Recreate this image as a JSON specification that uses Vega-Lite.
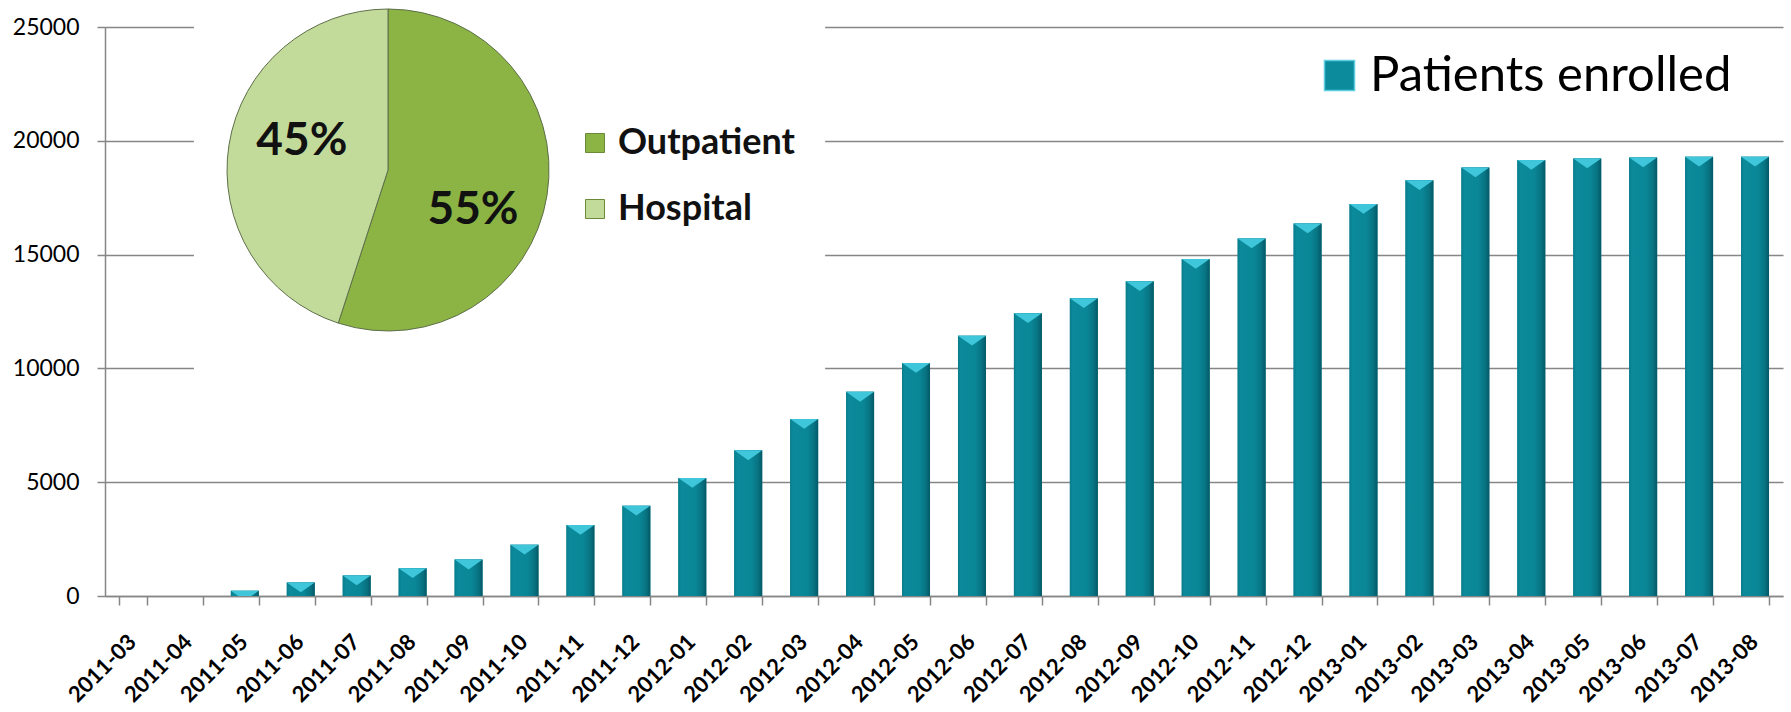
{
  "$schema": "https://vega.github.io/schema/vega-lite/v6.json",
  "width": 1678,
  "height": 569,
  "autosize": {"type": "none"},
  "padding": {"left": 105, "top": 27, "right": 8, "bottom": 116},
  "background": "white",
  "config": {"view": {"stroke": null}, "font": "Lato"},
  "datasets": {
    "enrolled": [
      {"month": "2011-03", "patients": 0},
      {"month": "2011-04", "patients": 0},
      {"month": "2011-05", "patients": 230},
      {"month": "2011-06", "patients": 590},
      {"month": "2011-07", "patients": 900},
      {"month": "2011-08", "patients": 1220},
      {"month": "2011-09", "patients": 1600},
      {"month": "2011-10", "patients": 2250},
      {"month": "2011-11", "patients": 3120},
      {"month": "2011-12", "patients": 3970},
      {"month": "2012-01", "patients": 5190},
      {"month": "2012-02", "patients": 6400},
      {"month": "2012-03", "patients": 7780},
      {"month": "2012-04", "patients": 8970},
      {"month": "2012-05", "patients": 10240},
      {"month": "2012-06", "patients": 11440},
      {"month": "2012-07", "patients": 12420},
      {"month": "2012-08", "patients": 13080},
      {"month": "2012-09", "patients": 13830},
      {"month": "2012-10", "patients": 14810},
      {"month": "2012-11", "patients": 15710},
      {"month": "2012-12", "patients": 16370},
      {"month": "2013-01", "patients": 17220},
      {"month": "2013-02", "patients": 18270},
      {"month": "2013-03", "patients": 18830},
      {"month": "2013-04", "patients": 19160},
      {"month": "2013-05", "patients": 19220},
      {"month": "2013-06", "patients": 19270},
      {"month": "2013-07", "patients": 19300},
      {"month": "2013-08", "patients": 19300}
    ],
    "pie": [
      {"type": "Outpatient", "share": 0.55},
      {"type": "Hospital", "share": 0.45}
    ],
    "inset": [{"name": "pie inset"}]
  },
  "layer": [
    {
      "data": {"name": "enrolled"},
      "mark": {"type": "bar"},
      "encoding": {
        "x": {
          "field": "month", "type": "nominal", "sort": null,
          "scale": {
            "domain": ["2011-03","2011-04","2011-05","2011-06","2011-07","2011-08","2011-09","2011-10","2011-11","2011-12",
                       "2012-01","2012-02","2012-03","2012-04","2012-05","2012-06","2012-07","2012-08","2012-09","2012-10","2012-11","2012-12",
                       "2013-01","2013-02","2013-03","2013-04","2013-05","2013-06","2013-07","2013-08"],
            "paddingInner": 0.5, "paddingOuter": 0.25
          },
          "axis": {
            "title": null, "labelAngle": -45, "labelFontWeight": "bold", "labelFontSize": 22,
            "labelFont": "Lato", "labelColor": "black", "labelPadding": 26, "labelOffset": -8,
            "tickBand": "extent", "tickSize": 9, "tickColor": "#868686", "tickWidth": 1.5,
            "domainColor": "#868686", "domainWidth": 1.5, "grid": false
          }
        },
        "y": {
          "field": "patients", "type": "quantitative",
          "scale": {"domain": [0, 25000], "nice": false},
          "axis": {
            "title": null, "values": [0, 5000, 10000, 15000, 20000, 25000], "format": "d",
            "labelFontSize": 23, "labelFont": "Lato", "labelColor": "black", "labelPadding": 18,
            "tickSize": 8, "tickColor": "#868686", "tickWidth": 1.5,
            "domainColor": "#868686", "domainWidth": 1.5,
            "grid": true, "gridColor": "#868686", "gridWidth": 1.5
          }
        },
        "color": {
          "datum": "Patients enrolled", "type": "nominal",
          "scale": {"range": ["#0C8B9C"]},
          "legend": {
            "orient": "none", "legendX": 1210, "legendY": 24, "title": null, "padding": 0,
            "symbolType": "square", "symbolSize": 900, "symbolStrokeColor": "#5CCDE0", "symbolStrokeWidth": 1.5,
            "labelFontSize": 49, "labelFont": "Lato", "labelColor": "black", "labelOffset": 6, "labelLimit": 600
          }
        }
      }
    },
    {
      "data": {"name": "inset"},
      "mark": {"type": "rect", "color": "white", "strokeWidth": 0},
      "encoding": {
        "x": {"datum": "2011-04", "type": "nominal", "bandPosition": 0.68},
        "x2": {"datum": "2012-03", "bandPosition": 1.25},
        "y": {"datum": 8000, "type": "quantitative"},
        "y2": {"datum": 25200}
      }
    },
    {
      "data": {"name": "enrolled"},
      "mark": {
        "type": "bar",
        "fill": {
          "gradient": "linear", "x1": 0, "y1": 0, "x2": 1, "y2": 0,
          "stops": [
            {"offset": 0, "color": "#0A7B8A"},
            {"offset": 0.1, "color": "#0B8A9B"},
            {"offset": 0.6, "color": "#0A8797"},
            {"offset": 0.85, "color": "#087382"},
            {"offset": 1, "color": "#055866"}
          ]
        }
      },
      "encoding": {
        "x": {"field": "month", "type": "nominal", "sort": null},
        "y": {"field": "patients", "type": "quantitative"}
      }
    },
    {
      "data": {"name": "enrolled"},
      "transform": [{"filter": "datum.patients > 0"}],
      "mark": {
        "type": "point", "filled": true, "clip": true,
        "shape": "M-1,0L1,0L0,0.7Z", "size": 784, "color": "#3FC6DB", "opacity": 1
      },
      "encoding": {
        "x": {"field": "month", "type": "nominal", "sort": null},
        "y": {"field": "patients", "type": "quantitative"}
      }
    },
    {
      "data": {"name": "pie"},
      "mark": {"type": "arc", "outerRadius": 161, "stroke": "#5E6F4A", "strokeWidth": 1},
      "encoding": {
        "theta": {"field": "share", "type": "quantitative", "stack": true},
        "order": {"field": "type", "sort": "descending"},
        "x": {"datum": "2011-08", "type": "nominal", "bandPosition": -0.38},
        "y": {"datum": 18717, "type": "quantitative"},
        "color": {
          "field": "type", "type": "nominal",
          "scale": {"domain": ["Outpatient", "Hospital"], "range": ["#8BB444", "#C2DB9A"]},
          "legend": {
            "orient": "none", "legendX": 472, "legendY": 98, "title": null, "padding": 0,
            "symbolType": "square", "symbolSize": 361, "symbolStrokeColor": "#6A8A3A", "symbolStrokeWidth": 1,
            "labelFontSize": 36, "labelFontWeight": "bold", "labelFont": "Lato", "labelColor": "#111111",
            "labelOffset": 5, "rowPadding": 30, "labelLimit": 400
          }
        }
      }
    },
    {
      "data": {"name": "pie"},
      "transform": [{"filter": "datum.type === 'Hospital'"}],
      "mark": {"type": "text", "fontSize": 46, "fontWeight": "bold", "font": "Lato", "color": "#111111", "align": "center", "baseline": "middle"},
      "encoding": {
        "x": {"datum": "2011-06", "type": "nominal", "bandPosition": 0.54},
        "y": {"datum": 20000, "type": "quantitative"},
        "text": {"field": "share", "type": "quantitative", "format": ".0%"}
      }
    },
    {
      "data": {"name": "pie"},
      "transform": [{"filter": "datum.type === 'Outpatient'"}],
      "mark": {"type": "text", "fontSize": 46, "fontWeight": "bold", "font": "Lato", "color": "#111111", "align": "center", "baseline": "middle"},
      "encoding": {
        "x": {"datum": "2011-09", "type": "nominal", "bandPosition": 0.66},
        "y": {"datum": 16960, "type": "quantitative"},
        "text": {"field": "share", "type": "quantitative", "format": ".0%"}
      }
    }
  ],
  "resolve": {"scale": {"color": "independent"}}
}
